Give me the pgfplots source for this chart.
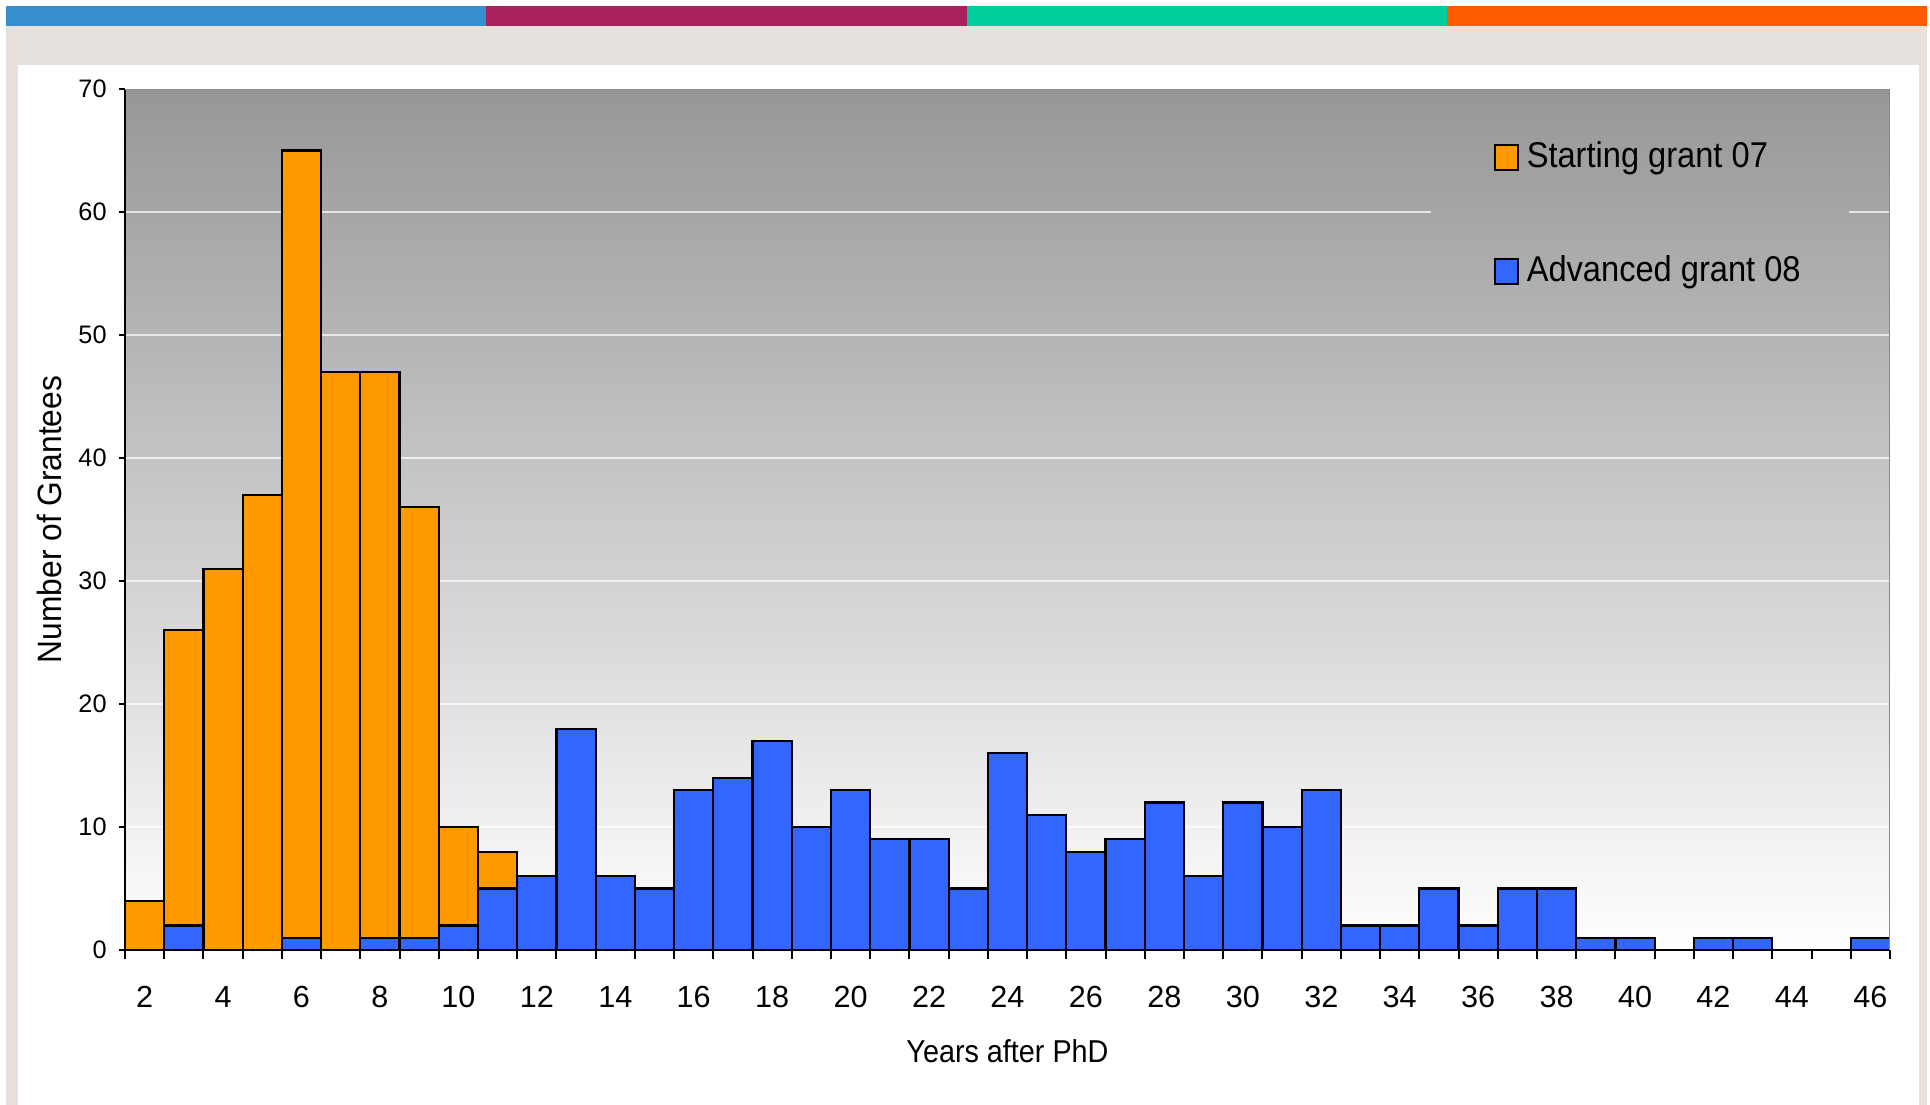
\documentclass[border=0pt]{standalone}
\usepackage{pgfplots}
\pgfplotsset{compat=1.18}
\usepackage{fontspec}
\setmainfont{Liberation Sans}
\newfontfamily\condA[FakeStretch=0.91]{Liberation Sans}
\newfontfamily\condB[FakeStretch=0.94]{Liberation Sans}
\definecolor{stripblue}{HTML}{388FCF}
\definecolor{stripmag}{HTML}{A8225B}
\definecolor{stripteal}{HTML}{00CC9C}
\definecolor{stripor}{HTML}{FF5C00}
\definecolor{panelgray}{HTML}{E6E1DC}
\definecolor{topg}{gray}{0.592}
\definecolor{gapg}{gray}{0.650}
\definecolor{framegray}{HTML}{888888}
\definecolor{barorange}{HTML}{FF9900}
\definecolor{barblue}{HTML}{3366FF}
\begin{document}
\begin{tikzpicture}[x=0.1mm,y=0.1mm]
\fill[white] (0,0) rectangle (1930,1105);
\fill[panelgray] (6,0) rectangle (1927,1079);
\fill[white] (18,0) rectangle (1919,1040);
\fill[stripblue] (6,1079) rectangle (486,1099);
\fill[stripmag] (486,1079) rectangle (967,1099);
\fill[stripteal] (967,1079) rectangle (1447,1099);
\fill[stripor] (1447,1079) rectangle (1927,1099);
\begin{axis}[
  at={(12.5mm,15.5mm)}, anchor=south west,
  scale only axis, width=176.5mm, height=86.1mm,
  xmin=1.5, xmax=46.5, ymin=0, ymax=70,
  axis lines=left, axis line style={-, black, line width=0.2mm},
  axis background/.style={top color=topg, bottom color=white},
  ytick={0,10,...,70},
  xtick={2,4,...,46},
  minor xtick={1.5,2.5,...,46.5},
  tick align=outside,
  major tick length=0.6mm, minor tick length=0.9mm,
  major x tick style={draw=none},
  minor x tick style={black, line width=0.2mm},
  major y tick style={black, line width=0.2mm},
  ymajorgrids,
  major grid style={white, opacity=0.7, line width=0.15mm},
  /pgf/number format/assume math mode=true,
  yticklabel style={font=\fontsize{7.2}{8}\selectfont},
  xticklabel style={font=\fontsize{8.7}{10}\selectfont, anchor=base, yshift=-5.2mm},
  xlabel={Years after PhD},
  ylabel={Number of Grantees},
  every axis x label/.style={at={(axis description cs:0.5,-0.1312)}, anchor=base, font=\condA\fontsize{9}{11}\selectfont},
  every axis y label/.style={at={(axis description cs:-0.0357,0.5)}, rotate=90, anchor=base, font=\condB\fontsize{9.6}{11}\selectfont},
  legend style={at={(axis cs:36.38,66.0)}, anchor=north west, draw=none, fill=none,
    font=\condA\fontsize{10.2}{12}\selectfont, row sep=7.65mm, inner sep=0pt,
    nodes={inner sep=0.3mm},
    /tikz/every odd column/.append style={column sep=0.5mm}},
  legend cell align=left,
  legend image code/.code={\draw[#1, draw=black, line width=0.2mm] (0mm,-1.25mm) rectangle (2.3mm,1.25mm);},
]
\fill[gapg] (axis cs:34.8,59.5) rectangle (axis cs:45.46,60.5);
\addplot[ybar, bar width=1, bar shift=0pt, fill=barorange, draw=black, line width=0.22mm]
  coordinates {(2,4)(3,26)(4,31)(5,37)(6,65)(7,47)(8,47)(9,36)(10,10)(11,8)};
\addlegendentry{Starting grant 07}
\addplot[ybar, bar width=1, bar shift=0pt, fill=barblue, draw=black, line width=0.22mm]
  coordinates {(3,2)(6,1)(8,1)(9,1)(10,2)(11,5)(12,6)(13,18)(14,6)(15,5)(16,13)(17,14)(18,17)(19,10)(20,13)(21,9)(22,9)(23,5)(24,16)(25,11)(26,8)(27,9)(28,12)(29,6)(30,12)(31,10)(32,13)(33,2)(34,2)(35,5)(36,2)(37,5)(38,5)(39,1)(40,1)(42,1)(43,1)(46,1)};
\addlegendentry{Advanced grant 08}
\draw[framegray, line width=0.25mm] (rel axis cs:0,1) -- (rel axis cs:1,1) -- (rel axis cs:1,0);
\end{axis}
\pgfresetboundingbox
\path (0,0) rectangle (1930,1105);
\end{tikzpicture}
\end{document}
